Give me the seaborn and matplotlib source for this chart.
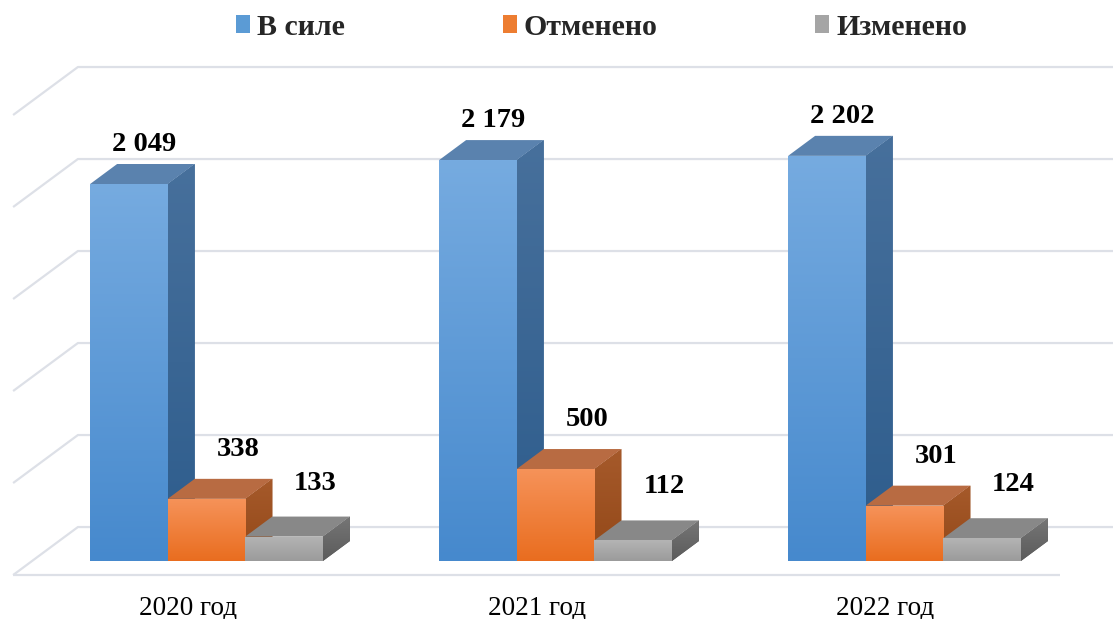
import numpy as np
import pandas as pd
import matplotlib
matplotlib.use("Agg")
import matplotlib.pyplot as plt
import seaborn as sns
from matplotlib.patches import Polygon, Patch
from matplotlib.colors import LinearSegmentedColormap

# Data
years = ["2020 год", "2021 год", "2022 год"]
statuses = ["В силе", "Отменено", "Изменено"]
in_force = [2049, 2179, 2202]
cancelled = [338, 500, 301]
modified = [133, 112, 124]
grid_values = [0, 500, 1000, 1500, 2000, 2500]

# Colours per series: front gradient, top face, side gradient, legend key
face_light = ["#76abe0", "#f6935a", "#b4b4b4"]
face_dark = ["#4689cd", "#e96d1f", "#9b9b9b"]
top_color = ["#5a82ae", "#b86b42", "#888888"]
side_light = ["#47709c", "#a65a2b", "#767676"]
side_dark = ["#2d5c8c", "#934818", "#5b5b5b"]
legend_color = ["#5b9bd5", "#ed7d31", "#a5a5a5"]

# Pseudo-3D geometry (screen pixels)
DEPTH_RATIO = 1.35   # horizontal shift per pixel of vertical depth
BAR_DEPTH = 20
WALL_DEPTH = 34
FLOOR_FRONT = 14

sns.set_theme(style="white")
plt.rcParams["font.family"] = ["Liberation Serif", "DejaVu Serif"]

df = pd.DataFrame({
    "year": years * 3,
    "status": np.repeat(statuses, len(years)),
    "value": in_force + cancelled + modified,
})

fig = plt.figure(figsize=(11.13, 6.19), dpi=100)
ax = fig.add_axes([0, 0, 1, 1])
sns.barplot(data=df, x="year", y="value", hue="status", hue_order=statuses,
            palette=face_dark, width=0.667, saturation=1, errorbar=None,
            legend=False, linewidth=0, ax=ax)
ax.set_xlim(-0.5917, 2.5974)
ax.set_ylim(-315, 3049)
ax.set_autoscale_on(False)
ax.axis("off")


def shifted(x, y, depth_px):
    """Push a data point back into the scene by depth_px screen pixels."""
    px, py = ax.transData.transform((x, y))
    px += depth_px * DEPTH_RATIO
    py += depth_px
    return tuple(ax.transData.inverted().transform((px, py)))


# Back wall, side wall and floor lines
grid_kw = dict(color="#dde0e7", lw=1.6, solid_capstyle="butt", zorder=1)
x_left, x_right = -0.5, 2.5
for v in grid_values:
    a = shifted(x_left, v, WALL_DEPTH)
    b = shifted(x_right, v, WALL_DEPTH)
    c = shifted(x_left, v, -FLOOR_FRONT)
    ax.plot([c[0], a[0], b[0]], [c[1], a[1], b[1]], **grid_kw)
f0 = shifted(x_left, 0, -FLOOR_FRONT)
f1 = shifted(x_right, 0, -FLOOR_FRONT)
ax.plot([f0[0], f1[0]], [f0[1], f1[1]], **grid_kw)

# Boxes: shaded front face, flat top, shaded side
vert = np.linspace(0, 1, 256).reshape(-1, 1)
for k, container in enumerate(ax.containers):
    face_cmap = LinearSegmentedColormap.from_list(f"face{k}", [face_light[k], face_dark[k]])
    side_cmap = LinearSegmentedColormap.from_list(f"side{k}", [side_light[k], side_dark[k]])
    for bar in container:
        x0, w, h = bar.get_x(), bar.get_width(), bar.get_height()
        z = 3 + k
        bar.set_zorder(z + 0.3)
        img = ax.imshow(vert, extent=(x0, x0 + w, 0, h), cmap=face_cmap,
                        aspect="auto", origin="upper", interpolation="bilinear",
                        zorder=z + 0.35)
        img.set_clip_path(bar)

        tl, tr, br = (x0, h), (x0 + w, h), (x0 + w, 0)
        top = Polygon([tl, tr, shifted(*tr, BAR_DEPTH), shifted(*tl, BAR_DEPTH)],
                      closed=True, fc=top_color[k], ec="none", zorder=z + 0.2)
        ax.add_patch(top)

        side_pts = [br, tr, shifted(*tr, BAR_DEPTH), shifted(*br, BAR_DEPTH)]
        side = Polygon(side_pts, closed=True, fc=side_dark[k], ec="none", zorder=z + 0.1)
        ax.add_patch(side)
        xs = [p[0] for p in side_pts]
        ys = [p[1] for p in side_pts]
        simg = ax.imshow(vert, extent=(min(xs), max(xs), min(ys), max(ys)),
                         cmap=side_cmap, aspect="auto", origin="upper",
                         interpolation="bilinear", zorder=z + 0.15)
        simg.set_clip_path(side)

# Value labels above each box
label_shift = [(2, 13), (18, 23), (18, 27)]
for k, container in enumerate(ax.containers):
    dx, gap = label_shift[k]
    for bar in container:
        h = bar.get_height()
        cx = bar.get_x() + bar.get_width() / 2
        text = f"{int(round(h)):,}".replace(",", " ")
        ax.annotate(text, xy=(cx, h),
                    xytext=(BAR_DEPTH * DEPTH_RATIO / 2 + dx, BAR_DEPTH + gap),
                    textcoords="offset pixels", ha="center", va="baseline",
                    fontsize=20.5, fontweight="bold", color="black", zorder=10)

# Category labels along the front edge of the floor
for i, year in enumerate(years):
    ax.annotate(year, xy=(i, 0), xytext=(-FLOOR_FRONT * DEPTH_RATIO, -53),
                textcoords="offset pixels", ha="center", va="baseline",
                fontsize=19.5, color="black")

handles = [Patch(facecolor=c, edgecolor="none") for c in legend_color]
fig.legend(handles=handles, labels=statuses, loc="center",
           bbox_to_anchor=(0.5404, 0.956), ncol=3, frameon=False,
           prop=dict(weight="bold", size=21.5), handlelength=0.47,
           handleheight=0.55, handletextpad=0.23, columnspacing=5.29,
           borderpad=0, borderaxespad=0)

fig.savefig("out.png", dpi=100)
